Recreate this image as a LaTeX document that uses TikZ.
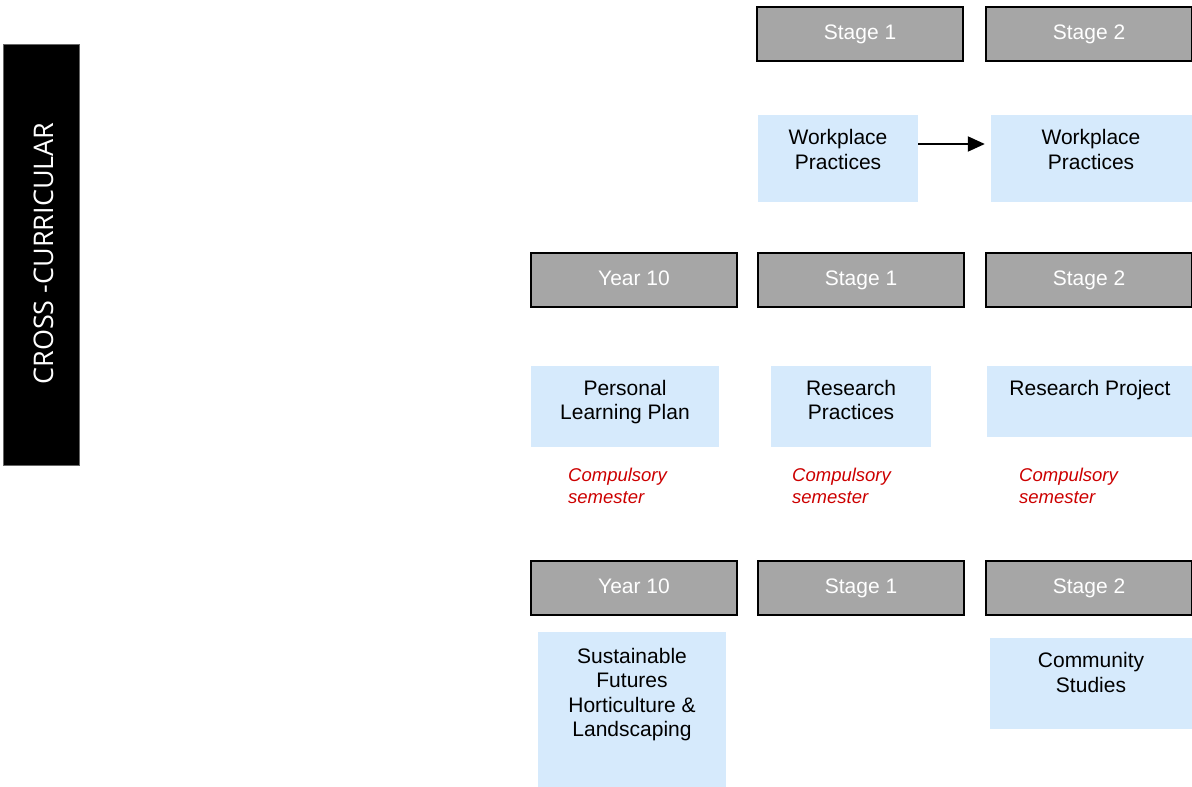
\documentclass[tikz,border=0pt]{standalone}
\usepackage{fontspec}
\setmainfont{Liberation Sans}
\newfontfamily\barfont{Open Sans}
\usetikzlibrary{arrows.meta}
\definecolor{hdrgrey}{RGB}{166,166,166}
\definecolor{boxblue}{RGB}{214,234,252}
\definecolor{compred}{RGB}{204,0,0}
\tikzset{
  hdr/.style={draw=black, line width=1.5pt, fill=hdrgrey, text=white, minimum width=206pt, minimum height=54pt, inner sep=0pt, text height=15pt, text depth=5pt, font=\fontsize{21}{24.5}\selectfont},
  bluebox/.style={fill=boxblue, draw=none, inner sep=0pt},
  txt/.style={align=center, inner sep=0pt, font=\fontsize{21}{24.5}\selectfont},
  comp/.style={align=left, anchor=west, inner sep=0pt, text=compred, font=\fontsize{18.5}{22}\selectfont\itshape},
  conn/.style={line width=2pt, -{Triangle[length=17pt,width=15pt]}}
}
\begin{document}
\begin{tikzpicture}[x=1pt,y=-1pt]
\useasboundingbox (0,0) rectangle (1192,787);
% side bar
\node[fill=black, draw=black!60, line width=0.5pt, minimum width=76pt, minimum height=421pt, inner sep=0pt] (bar) at (41,254.5) {};
\node[rotate=90, text=white, inner sep=0pt, font=\barfont\fontsize{27}{30}\selectfont] (bartxt) at (43.5,253.5) {CROSS -CURRICULAR};
% row 1
\node[hdr] (h1a) at (860,34) {Stage 1};
\node[hdr] (h1b) at (1089,34) {Stage 2};
\node[bluebox, minimum width=160pt, minimum height=87pt] (wp1) at (838,158.5) {};
\node[txt] (wp1t) at (838,149.5) {Workplace\\Practices};
\node[bluebox, minimum width=201pt, minimum height=87pt] (wp2) at (1091.5,158.5) {};
\node[txt] (wp2t) at (1091,149.5) {Workplace\\Practices};
\draw[conn] ([yshift=14.5pt]wp1.east) -- ([yshift=14.5pt]wp2.west) [shorten >=6pt];
% row 2
\node[hdr] (h2a) at (634,280) {Year 10};
\node[hdr] (h2b) at (861,280) {Stage 1};
\node[hdr] (h2c) at (1089,280) {Stage 2};
\node[bluebox, minimum width=188pt, minimum height=81pt] (plp) at (625,406.5) {};
\node[txt] (plpt) at (625,402) {Personal\\Learning Plan};
\node[bluebox, minimum width=160pt, minimum height=81pt] (rp) at (851,406.5) {};
\node[txt] (rpt) at (851,400) {Research\\Practices};
\node[bluebox, minimum width=205pt, minimum height=71pt] (rpj) at (1089.5,401.5) {};
\node[txt] (rpjt) at (1090,390) {Research Project};
\node[comp] (c1) at (568,486) {Compulsory\\semester};
\node[comp] (c2) at (792,486) {Compulsory\\semester};
\node[comp] (c3) at (1019,486) {Compulsory\\semester};
% row 3
\node[hdr] (h3a) at (634,588) {Year 10};
\node[hdr] (h3b) at (861,588) {Stage 1};
\node[hdr] (h3c) at (1089,588) {Stage 2};
\node[bluebox, minimum width=188pt, minimum height=155pt] (sf) at (632,709.5) {};
\node[txt] (sft) at (632,694.5) {Sustainable\\Futures\\Horticulture \&\\Landscaping};
\node[bluebox, minimum width=202pt, minimum height=91pt] (cs) at (1091,683.5) {};
\node[txt] (cst) at (1091,672.5) {Community\\Studies};
\end{tikzpicture}
\end{document}
